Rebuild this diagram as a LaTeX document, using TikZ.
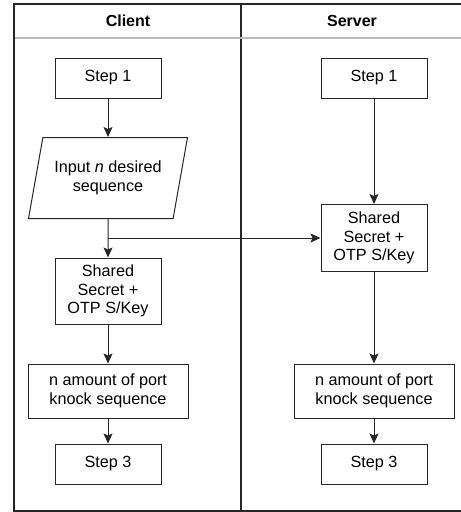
\documentclass[tikz,border=0pt]{standalone}
\usepackage{fontspec}
\setmainfont{Liberation Sans}
\usetikzlibrary{shapes.geometric,arrows.meta,positioning,calc}

\begin{document}
\begin{tikzpicture}[x=1pt,y=-1pt,
    every node/.style={font=\fontsize{16.2}{18.8}\selectfont},
    stepbox/.style={draw=black!85,line width=1pt,rectangle,align=center,inner sep=0pt,minimum width=106pt},
    iobox/.style={draw=black!85,line width=1pt,trapezium,trapezium left angle=67,trapezium right angle=113,
        trapezium stretches body,align=center,minimum width=159pt,minimum height=81pt,inner sep=0pt},
    flow/.style={draw=black!85,line width=1pt,-{Stealth[length=10pt,width=9pt,inset=2pt]}},
    lane/.style={draw=black!85,line width=1.2pt},
    head/.style={font=\fontsize{16}{18.8}\selectfont\bfseries}]
    \useasboundingbox (0,0) rectangle (461,512);

    % lanes
    \draw[lane] (461,4) -- (14,4) -- (14,511) -- (461,511);
    \draw[lane] (241,4) -- (241,511);
    \draw[gray!55,line width=1.5pt] (15,38) -- (461,38);
    \node[head] (client) at (128,21) {Client};
    \node[head] (server) at (352,21) {Server};

    % client side
    \node[stepbox,minimum height=40pt] (c1) at (108,78) {Step 1};
    \node[iobox] (cin) at (108,178) {Input \textit{n} desired\\sequence};
    \node[stepbox,minimum height=66pt] (cshared) at (108,291) {Shared\\Secret +\\OTP S/Key};
    \node[stepbox,minimum width=160pt,minimum height=54pt] (cport) at (108,391) {n amount of port\\knock sequence};
    \node[stepbox,minimum height=40pt] (c3) at (108,464) {Step 3};

    % server side
    \node[stepbox,minimum height=40pt] (s1) at (374,78) {Step 1};
    \node[stepbox,minimum height=67pt] (sshared) at (374,238) {Shared\\Secret +\\OTP S/Key};
    \node[stepbox,minimum width=160pt,minimum height=54pt] (sport) at (374,391) {n amount of port\\knock sequence};
    \node[stepbox,minimum height=40pt] (s3) at (374,464) {Step 3};

    \coordinate (fork) at (cin.south |- sshared.west);

    \draw[flow] (c1) -- (cin);
    \draw[flow] (cin) -- (cshared);
    \draw[flow] (fork) -- (sshared.west);
    \draw[flow] (cshared) -- (cport);
    \draw[flow] (cport) -- (c3);
    \draw[flow] (s1) -- (sshared);
    \draw[flow] (sshared) -- (sport);
    \draw[flow] (sport) -- (s3);
\end{tikzpicture}
\end{document}
